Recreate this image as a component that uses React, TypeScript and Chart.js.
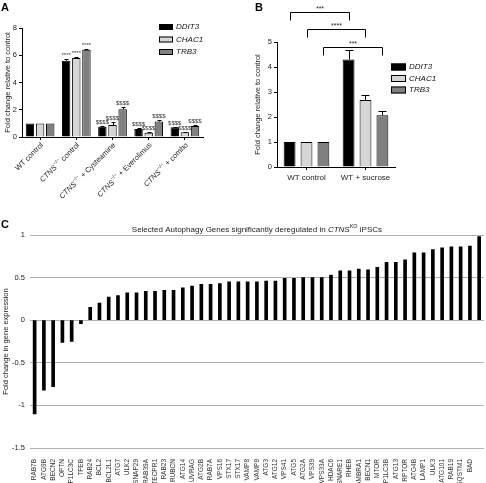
import React, { useEffect, useRef } from 'react';
import { Chart, registerables } from 'chart.js';
Chart.register(...registerables);

const FONT = '"Liberation Sans", Arial, Helvetica, sans-serif';

// ---------- Panel A ----------
const seriesNames = ['DDIT3', 'CHAC1', 'TRB3'];
const seriesColors = ['#000000', '#d6d6d6', '#808080'];
const groupsA = ['WT control', 'CTNS−/− control', 'CTNS−/− + Cysteamine', 'CTNS−/− + Everolimus', 'CTNS−/− + combo'];
const ddit3A = [1, 5.6, 0.76, 0.59, 0.71];
const chac1A = [1, 5.8, 0.88, 0.32, 0.35];
const trb3A = [1, 6.4, 2.04, 1.13, 0.81];
const ddit3AErr = [0, 0.1, 0.05, 0.04, 0.05];
const chac1AErr = [0, 0.07, 0.2, 0.07, 0.04];
const trb3AErr = [0, 0.08, 0.14, 0.14, 0.06];
const sigA = ['', '****', '$$$$', '$$$$', '$$$$'];
const ticksA = [0, 2, 4, 6, 8];

// ---------- Panel B ----------
const groupsB = ['WT control', 'WT + sucrose'];
const ddit3B = [1, 4.3];
const chac1B = [1, 2.68];
const trb3B = [1, 2.07];
const ddit3BErr = [0, 0.38];
const chac1BErr = [0, 0.2];
const trb3BErr = [0, 0.17];
const bracketLabelsB = ['***', '****', '***'];
const bracketLevelsB = [6.22, 5.52, 4.78];

// ---------- Panel C ----------
const genesC = ['RAB7B', 'ATG9B', 'BECN2', 'OPTN', 'MAP1LC3C', 'TFEB', 'RAB24', 'BCL2', 'BCL2L1', 'ATG7', 'ULK2', 'SNAP29', 'RAB39A', 'TECPR1', 'RAB23', 'RUBCN', 'ATG14', 'UVRAG', 'ATG2B', 'RAB7A', 'VPS16', 'STX17', 'STX17', 'VAMP8', 'VAMP8', 'ATG3', 'ATG12', 'VPS41', 'ATG5', 'ATG2A', 'VPS39', 'VPS33A', 'HDAC6', 'TSNARE1', 'RHEB', 'AMBRA1', 'BECN1', 'MTOR', 'MAP1LC3B', 'ATG13', 'RPTOR', 'ATG4B', 'LAMP1', 'ULK3', 'ATG101', 'RAB19', 'SQSTM1', 'BAD', ''];
const valuesC = [-1.1, -0.82, -0.78, -0.26, -0.25, -0.04, 0.15, 0.2, 0.27, 0.29, 0.32, 0.32, 0.34, 0.34, 0.35, 0.35, 0.38, 0.4, 0.42, 0.42, 0.43, 0.45, 0.45, 0.45, 0.45, 0.46, 0.46, 0.49, 0.49, 0.5, 0.5, 0.5, 0.53, 0.58, 0.58, 0.6, 0.59, 0.62, 0.68, 0.68, 0.71, 0.79, 0.79, 0.83, 0.85, 0.86, 0.86, 0.87, 0.98];
const ticksC = [-1.5, -1, -0.5, 0, 0.5, 1];

type Seg = { t: string; s?: 'i' | 'sup' };

function segsFor(label: string): Seg[] {
  if (label.startsWith('CTNS−/−')) return [{ t: 'CTNS', s: 'i' }, { t: '−/−', s: 'sup' }, { t: label.slice(7) }];
  return [{ t: label }];
}

function drawSegs(ctx: CanvasRenderingContext2D, segs: Seg[], x: number, y: number, size: number, align: 'left' | 'right' | 'center') {
  const fontFor = (g: Seg) => (g.s === 'i' ? `italic ${size}px ${FONT}` : g.s === 'sup' ? `${(size * 0.68).toFixed(2)}px ${FONT}` : `${size}px ${FONT}`);
  const widths = segs.map((g) => {
    ctx.font = fontFor(g);
    return ctx.measureText(g.t).width;
  });
  const total = widths.reduce((a, b) => a + b, 0);
  let cx = align === 'left' ? x : align === 'right' ? x - total : x - total / 2;
  ctx.textAlign = 'left';
  segs.forEach((g, i) => {
    ctx.font = fontFor(g);
    ctx.fillText(g.t, cx, g.s === 'sup' ? y - size * 0.4 : y);
    cx += widths[i];
  });
}

function drawYTitle(ctx: CanvasRenderingContext2D, text: string, x: number, y: number) {
  ctx.save();
  ctx.translate(x, y);
  ctx.rotate(-Math.PI / 2);
  ctx.font = `7.5px ${FONT}`;
  ctx.fillStyle = '#222';
  ctx.textAlign = 'center';
  ctx.textBaseline = 'middle';
  ctx.fillText(text, 0, 0);
  ctx.restore();
}

function drawLetter(ctx: CanvasRenderingContext2D, l: string, x: number, y: number) {
  ctx.save();
  ctx.font = `bold 11px ${FONT}`;
  ctx.fillStyle = '#000';
  ctx.textAlign = 'left';
  ctx.textBaseline = 'top';
  ctx.fillText(l, x, y);
  ctx.restore();
}

function drawLegend(ctx: CanvasRenderingContext2D, x: number, y0: number, dy: number, w: number, h: number) {
  seriesNames.forEach((n, i) => {
    const y = y0 + i * dy;
    ctx.fillStyle = seriesColors[i];
    ctx.fillRect(x, y - h / 2, w, h);
    ctx.strokeStyle = '#000';
    ctx.lineWidth = 1;
    ctx.strokeRect(x + 0.5, y - h / 2 + 0.5, w - 1, h - 1);
    ctx.fillStyle = '#111';
    ctx.font = `italic 8px ${FONT}`;
    ctx.textAlign = 'left';
    ctx.textBaseline = 'middle';
    ctx.fillText(n, x + w + 3, y);
  });
}

function drawErrors(chart: any, vals: number[][], errs: number[][], cap: number) {
  const ctx = chart.ctx;
  const ys = chart.scales.y;
  ctx.strokeStyle = '#000';
  ctx.lineWidth = 1;
  vals.forEach((v, i) => {
    const meta = chart.getDatasetMeta(i);
    meta.data.forEach((el: any, j: number) => {
      const e = errs[i][j];
      if (!e) return;
      const x = Math.round(el.x) + 0.5;
      const ye = Math.round(ys.getPixelForValue(v[j] + e)) + 0.5;
      ctx.beginPath();
      ctx.moveTo(x, el.y);
      ctx.lineTo(x, ye);
      ctx.moveTo(x - cap / 2, ye);
      ctx.lineTo(x + cap / 2, ye);
      ctx.stroke();
    });
  });
}

const valsA = [ddit3A, chac1A, trb3A];
const errsA = [ddit3AErr, chac1AErr, trb3AErr];
const valsB = [ddit3B, chac1B, trb3B];
const errsB = [ddit3BErr, chac1BErr, trb3BErr];

const plugA = {
  id: 'plugA',
  afterDraw(chart: any) {
    const ctx = chart.ctx;
    const ca = chart.chartArea;
    const ys = chart.scales.y;
    const xs = chart.scales.x;
    ctx.save();
    drawErrors(chart, valsA, errsA, 4);
    valsA.forEach((v, i) => {
      const meta = chart.getDatasetMeta(i);
      meta.data.forEach((el: any, j: number) => {
        const s = sigA[j];
        if (!s) return;
        const ye = ys.getPixelForValue(v[j] + errsA[i][j]);
        ctx.fillStyle = '#333';
        ctx.font = `6px ${FONT}`;
        ctx.textAlign = 'center';
        ctx.textBaseline = 'alphabetic';
        ctx.fillText(s, el.x, ye - 2);
      });
    });
    groupsA.forEach((g, j) => {
      const x = xs.getPixelForValue(j);
      ctx.save();
      ctx.translate(x + 2, ca.bottom + 7);
      ctx.rotate(-Math.PI / 4);
      ctx.fillStyle = '#222';
      ctx.textBaseline = 'middle';
      drawSegs(ctx, segsFor(g), 0, 0, 7.5, 'right');
      ctx.restore();
    });
    drawLegend(ctx, 159, 27, 12.5, 14, 6);
    drawYTitle(ctx, 'Fold change relative to control', 7.5, (ca.top + ca.bottom) / 2);
    drawLetter(ctx, 'A', 1, 2);
    ctx.restore();
  },
};

const plugB = {
  id: 'plugB',
  afterDraw(chart: any) {
    const ctx = chart.ctx;
    const ca = chart.chartArea;
    const ys = chart.scales.y;
    ctx.save();
    drawErrors(chart, valsB, errsB, 8);
    bracketLabelsB.forEach((lab, i) => {
      const meta = chart.getDatasetMeta(i);
      const x1 = Math.round(meta.data[0].x) + 0.5;
      const x2 = Math.round(meta.data[1].x) + 0.5;
      const y = Math.round(ys.getPixelForValue(bracketLevelsB[i])) + 0.5;
      ctx.strokeStyle = '#000';
      ctx.lineWidth = 1;
      ctx.beginPath();
      ctx.moveTo(x1, y + 8);
      ctx.lineTo(x1, y);
      ctx.lineTo(x2, y);
      ctx.lineTo(x2, y + 8);
      ctx.stroke();
      ctx.fillStyle = '#222';
      ctx.font = `7px ${FONT}`;
      ctx.textAlign = 'center';
      ctx.textBaseline = 'alphabetic';
      ctx.fillText(lab, (x1 + x2) / 2, y - 2);
    });
    drawLegend(ctx, 148, 67, 11.5, 15, 7);
    drawYTitle(ctx, 'Fold change relative to control', 15, (ca.top + ca.bottom) / 2);
    drawLetter(ctx, 'B', 12, 2);
    ctx.restore();
  },
};

const plugC = {
  id: 'plugC',
  afterDraw(chart: any) {
    const ctx = chart.ctx;
    const ca = chart.chartArea;
    ctx.save();
    ctx.fillStyle = '#222';
    ctx.textBaseline = 'middle';
    drawSegs(
      ctx,
      [{ t: 'Selected Autophagy Genes significantly deregulated in ' }, { t: 'CTNS', s: 'i' }, { t: 'KO', s: 'sup' }, { t: ' iPSCs' }],
      (ca.left + ca.right) / 2,
      16,
      8,
      'center'
    );
    drawYTitle(ctx, 'Fold change in gene expression', 6, (ca.top + ca.bottom) / 2);
    drawLetter(ctx, 'C', 1, 5);
    ctx.restore();
  },
};

function groupedConfig(labels: string[], vals: number[][], catPct: number, barPct: number, opts: any, plugin: any) {
  return {
    type: 'bar',
    data: {
      labels,
      datasets: vals.map((v, i) => ({
        label: seriesNames[i],
        data: v,
        backgroundColor: seriesColors[i],
        borderColor: '#000',
        borderWidth: 1,
        categoryPercentage: catPct,
        barPercentage: barPct,
      })),
    },
    options: { responsive: false, animation: false, ...opts, plugins: { legend: { display: false }, tooltip: { enabled: false } } },
    plugins: [plugin],
  } as any;
}

function ChartBox({ make, left, top, width, height }: { make: () => any; left: number; top: number; width: number; height: number }) {
  const ref = useRef<HTMLCanvasElement>(null);
  useEffect(() => {
    const c = new Chart(ref.current as HTMLCanvasElement, make());
    return () => c.destroy();
  }, []);
  return (
    <canvas
      ref={ref}
      width={width}
      height={height}
      style={{ position: 'absolute', left, top, width, height }}
    />
  );
}

const makeA = () =>
  groupedConfig(groupsA, valsA, 0.84, 0.83, {
    layout: { padding: { top: 28, right: 40, left: 0, bottom: 0 } },
    scales: {
      x: {
        grid: { display: true, drawOnChartArea: false, drawTicks: true, tickLength: 3, offset: false, color: '#000' },
        border: { display: true, color: '#000', width: 1 },
        ticks: { display: false },
        afterFit: (s: any) => { s.height = 88; },
      },
      y: {
        min: 0,
        max: 8,
        afterBuildTicks: (s: any) => { s.ticks = ticksA.map((v) => ({ value: v })); },
        ticks: { font: { size: 7.5, family: FONT }, color: '#222', padding: 2 },
        grid: { drawOnChartArea: false, drawTicks: true, tickLength: 3, color: '#000' },
        border: { display: true, color: '#000', width: 1 },
        afterFit: (s: any) => { s.width = 22; },
      },
    },
  }, plugA);

const makeB = () =>
  groupedConfig(groupsB, valsB, 0.86, 0.7, {
    layout: { padding: { top: 42, right: 91, left: 0, bottom: 0 } },
    scales: {
      x: {
        grid: { display: true, drawOnChartArea: false, drawTicks: true, tickLength: 3, offset: false, color: '#000' },
        border: { display: true, color: '#000', width: 1 },
        ticks: { font: { size: 8, family: FONT }, color: '#222', padding: 3, maxRotation: 0 },
        afterFit: (s: any) => { s.height = 58; },
      },
      y: {
        min: 0,
        max: 5,
        ticks: { stepSize: 1, font: { size: 7.5, family: FONT }, color: '#222', padding: 2 },
        grid: { drawOnChartArea: false, drawTicks: true, tickLength: 3, color: '#000' },
        border: { display: true, color: '#000', width: 1 },
        afterFit: (s: any) => { s.width = 34; },
      },
    },
  }, plugB);

const makeC = () => ({
  type: 'bar',
  data: {
    labels: genesC,
    datasets: [{ label: 'Fold change', data: valuesC, backgroundColor: '#000', barThickness: 3 }],
  },
  options: {
    responsive: false,
    animation: false,
    layout: { padding: { top: 21, right: 3, left: 0, bottom: 0 } },
    plugins: { legend: { display: false }, tooltip: { enabled: false } },
    scales: {
      x: {
        grid: { display: false },
        border: { display: false },
        ticks: { autoSkip: false, minRotation: 90, maxRotation: 90, font: { size: 6.5, family: FONT }, color: '#333', padding: 3 },
        afterFit: (s: any) => { s.height = 35; },
      },
      y: {
        min: -1.5,
        max: 1,
        afterBuildTicks: (s: any) => { s.ticks = ticksC.map((v) => ({ value: v })); },
        ticks: { font: { size: 7.5, family: FONT }, color: '#222', padding: 5, callback: (v: any) => String(v) },
        grid: { color: '#b0b0b0', drawTicks: false, lineWidth: 1 },
        border: { display: false },
        afterFit: (s: any) => { s.width = 30; },
      },
    },
  },
  plugins: [plugC],
}) as any;

export default function App() {
  return (
    <div style={{ position: 'fixed', left: 0, top: 0, width: 486, height: 483, overflow: 'hidden', background: '#fff' }}>
      <ChartBox make={makeA} left={0} top={0} width={243} height={225} />
      <ChartBox make={makeB} left={243} top={0} width={243} height={225} />
      <ChartBox make={makeC} left={0} top={214} width={490} height={269} />
    </div>
  );
}
